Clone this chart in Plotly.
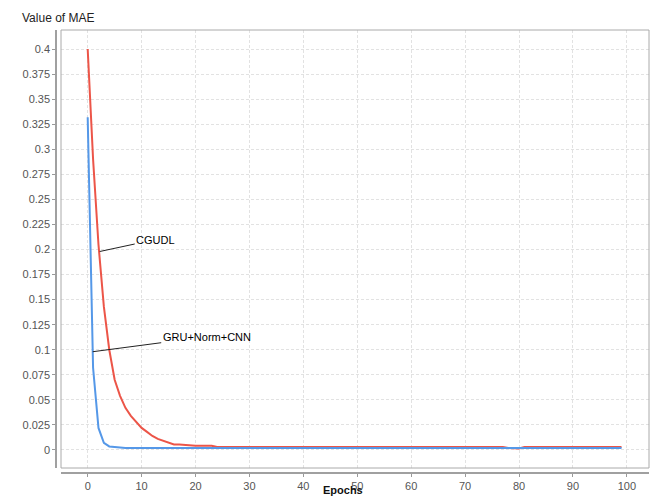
import plotly.graph_objects as go

epochs = list(range(100))

cgudl = [0.400, 0.290, 0.205, 0.143, 0.100, 0.070, 0.054, 0.042, 0.034, 0.028,
         0.022, 0.018, 0.014, 0.011, 0.009, 0.007, 0.0055, 0.0055, 0.005, 0.0042,
         0.0042, 0.0042, 0.0042, 0.0042, 0.003] + [0.003] * 53 + [0.002, 0.0015, 0.0015] + [0.003] * 19

gru_norm_cnn = [0.332, 0.082, 0.022, 0.007, 0.0035, 0.0028, 0.002] + [0.002] * 93

y_ticks = [0, 0.025, 0.05, 0.075, 0.1, 0.125, 0.15, 0.175, 0.2, 0.225, 0.25,
           0.275, 0.3, 0.325, 0.35, 0.375, 0.4]
y_tick_text = ["0", "0.025", "0.05", "0.075", "0.1", "0.125", "0.15", "0.175", "0.2",
               "0.225", "0.25", "0.275", "0.3", "0.325", "0.35", "0.375", "0.4"]
x_ticks = [0, 10, 20, 30, 40, 50, 60, 70, 80, 90, 100]

fig = go.Figure()
fig.add_trace(go.Scatter(x=epochs, y=cgudl, mode="lines", name="CGUDL",
                         line=dict(color="#ec5548", width=2)))
fig.add_trace(go.Scatter(x=epochs, y=gru_norm_cnn, mode="lines", name="GRU+Norm+CNN",
                         line=dict(color="#5598e8", width=2)))

W, H = 667, 496
ml, mr, mt, mb = 56, 18, 30, 23
pw = W - ml - mr
ph = H - mt - mb

tickfont = dict(family="Liberation Sans, Arial, sans-serif", size=11, color="#555555")
grid = dict(showgrid=True, gridcolor="#e2e2e2", griddash="3px,2px", gridwidth=1, zeroline=False)

fig.update_layout(
    width=W, height=H,
    margin=dict(l=ml, r=mr, t=mt, b=mb, autoexpand=False),
    paper_bgcolor="white", plot_bgcolor="white",
    showlegend=False,
    xaxis=dict(domain=[5 / pw, 1], anchor="free", position=0,
               range=[-4.95, 104.1], tickvals=x_ticks,
               ticks="outside", ticklen=3, tickcolor="#999999",
               showline=True, linecolor="#a0a0a0", linewidth=1.5,
               tickfont=tickfont, automargin=False, ticklabelstandoff=0, **grid),
    yaxis=dict(domain=[5 / ph, 1], anchor="free", position=0,
               range=[-0.018, 0.419], tickvals=y_ticks, ticktext=y_tick_text,
               ticks="outside", ticklen=3, tickcolor="#999999",
               showline=True, linecolor="#a0a0a0", linewidth=1.5,
               tickfont=tickfont, automargin=False, **grid),
    shapes=[dict(type="rect", xref="x domain", yref="y domain", x0=0, x1=1, y0=0, y1=1,
                 line=dict(color="#aaaaaa", width=1), fillcolor="rgba(0,0,0,0)", layer="above")],
)

fig.add_annotation(x=2.23, y=0.198, ax=56, ay=-12, text="CGUDL", showarrow=True,
                   arrowhead=0, arrowwidth=1, arrowcolor="#222222",
                   font=dict(family="Liberation Sans, Arial, sans-serif", size=11, color="#000000"))
fig.add_annotation(x=0.93, y=0.098, ax=114, ay=-15, text="GRU+Norm+CNN", showarrow=True,
                   arrowhead=0, arrowwidth=1, arrowcolor="#222222",
                   font=dict(family="Liberation Sans, Arial, sans-serif", size=11, color="#000000"))

fig.add_annotation(xref="paper", yref="paper", x=(342.5 - ml) / pw, y=-(489.5 - (H - mb)) / ph,
                   text="<b>Epochs</b>", showarrow=False, xanchor="center", yanchor="middle",
                   font=dict(family="Liberation Sans, Arial, sans-serif", size=11, color="#111111"))
fig.add_annotation(xref="paper", yref="paper", x=(20 - ml) / pw, y=1 + (30 - 18) / ph,
                   text="Value of MAE", showarrow=False, xanchor="left", yanchor="middle",
                   font=dict(family="Liberation Sans, Arial, sans-serif", size=12, color="#222222"))

fig.write_html("out.html")
